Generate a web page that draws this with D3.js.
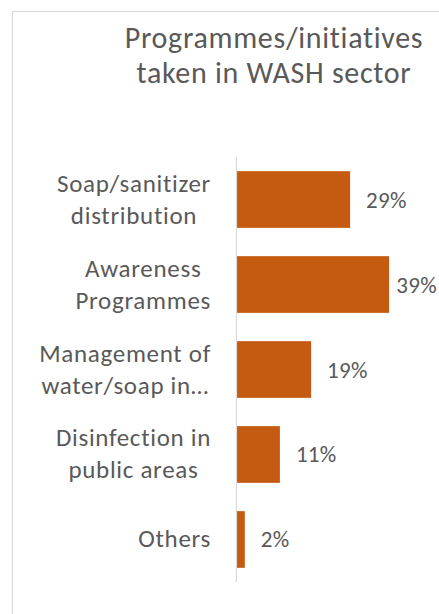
<!DOCTYPE html>
<html>
<head>
<meta charset="utf-8">
<script src="https://cdn.jsdelivr.net/npm/d3@7"></script>
<style>
  html, body { margin: 0; padding: 0; background: #ffffff; }
  svg { display: block; }
  text { font-family: Carlito, Calibri, Lato, "Open Sans", sans-serif; fill: #595959; }
</style>
</head>
<body>
<svg id="chart" width="439" height="614"></svg>
<script>
// Programmes/initiatives taken in WASH sector (share of responses, %)
const titleLines = ["Programmes/initiatives", "taken in WASH sector"];
const categories = [
  ["Soap/sanitizer", "distribution"],
  ["Awareness", "Programmes"],
  ["Management of", "water/soap in…"],
  ["Disinfection in", "public areas"],
  ["Others"]
];
const values = [29, 39, 19, 11, 2];
const valueLabels = ["29%", "39%", "19%", "11%", "2%"];

const W = 439, H = 614;
const svg = d3.select("#chart");

// chart frame (continues past the right and bottom edges)
svg.append("rect")
  .attr("x", 12.5).attr("y", 11.5)
  .attr("width", 460).attr("height", 640)
  .attr("fill", "#ffffff")
  .attr("stroke", "#d9d9d9").attr("stroke-width", 1.2);

// title
svg.append("g").selectAll("text")
  .data(titleLines).join("text")
  .attr("x", 274)
  .attr("y", (d, i) => 48 + i * 35)
  .attr("text-anchor", "middle")
  .attr("font-size", 30)
  .attr("letter-spacing", 0.7)
  .text(d => d);

const y = d3.scaleBand()
  .domain(d3.range(categories.length))
  .range([157, 582])
  .paddingInner(0.333)
  .paddingOuter(0.1667);

const x = d3.scaleLinear().domain([0, 40]).range([237, 393]);

// bars
svg.append("g").selectAll("rect")
  .data(values).join("rect")
  .attr("x", x(0))
  .attr("y", (d, i) => y(i))
  .attr("width", d => x(d) - x(0))
  .attr("height", y.bandwidth())
  .attr("fill", "#c55a11");

// vertical category axis line
svg.append("line")
  .attr("x1", 236.5).attr("x2", 236.5)
  .attr("y1", y.range()[0]).attr("y2", y.range()[1])
  .attr("stroke", "#d9d9d9").attr("stroke-width", 1.2);

// category labels: lines centred on each other, widest line ending before the axis
const labelRight = 211, lineH = 32, labelSize = 25;
const cat = svg.append("g").selectAll("g")
  .data(categories).join("g");
cat.each(function(lines, i) {
  const g = d3.select(this);
  const cy = y(i) + y.bandwidth() / 2;
  const t = g.selectAll("text").data(lines).join("text")
    .attr("font-size", labelSize)
    .attr("letter-spacing", 0.7)
    .attr("text-anchor", "middle")
    .attr("y", (d, k) => cy + 8 + (k - (lines.length - 1) / 2) * lineH)
    .text(d => d);
  const maxW = d3.max(t.nodes(), n => n.getComputedTextLength());
  t.attr("x", labelRight - maxW / 2);
});

// value labels, kept inside the right edge
const vl = svg.append("g").selectAll("text")
  .data(values).join("text")
  .attr("y", (d, i) => y(i) + y.bandwidth() / 2 + 8)
  .attr("font-size", 23)
  .attr("letter-spacing", 0.3)
  .text((d, i) => valueLabels[i]);
vl.attr("x", function(d) {
  const w = this.getComputedTextLength();
  return Math.min(x(d) + 16, W - 2 - w);
});
</script>
</body>
</html>
